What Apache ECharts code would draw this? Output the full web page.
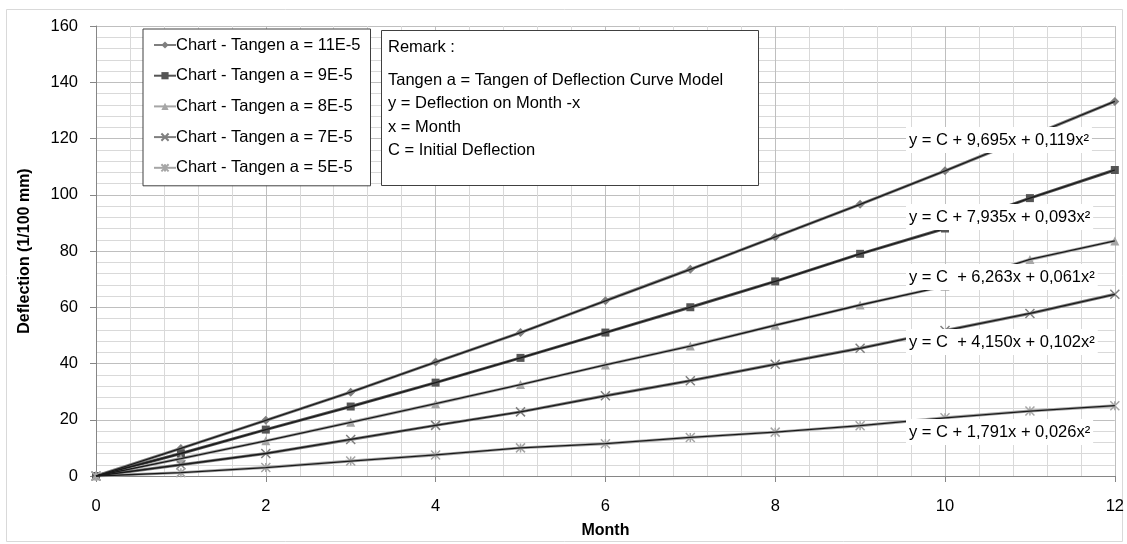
<!DOCTYPE html>
<html>
<head>
<meta charset="utf-8">
<script src="https://cdn.jsdelivr.net/npm/echarts@6/dist/echarts.min.js"></script>
<style>
html,body{margin:0;padding:0;background:#fff;}
#chart{width:1127px;height:544px;}
</style>
</head>
<body>
<div id="chart"></div>
<script>
// ---- data ----
const months = [0,1,2,3,4,5,6,7,8,9,10,11,12];
const seriesNames = [
  'Chart - Tangen a = 11E-5',
  'Chart - Tangen a = 9E-5',
  'Chart - Tangen a = 8E-5',
  'Chart - Tangen a = 7E-5',
  'Chart - Tangen a = 5E-5'
];
const tan11 = [0, 9.8, 19.8, 29.8, 40.5, 51, 62.3, 73.5, 85, 96.6, 108.5, 120.8, 133.2];
const tan9  = [0, 8, 16.5, 24.7, 33.2, 42, 51, 60, 69.2, 79, 88, 98.8, 108.8];
const tan8  = [0, 6.2, 12.5, 19.1, 25.7, 32.5, 39.5, 46.2, 53.6, 60.8, 67.5, 77, 83.6];
const tan7  = [0, 4, 8, 13, 18, 22.8, 28.5, 33.9, 39.7, 45.4, 51.7, 57.8, 64.6];
const tan5  = [0, 1.2, 3, 5.3, 7.5, 10, 11.5, 13.7, 15.6, 17.9, 20.7, 23.1, 25];
const equations = [
  'y = C + 9,695x + 0,119x²',
  'y = C + 7,935x + 0,093x²',
  'y = C  + 6,263x + 0,061x²',
  'y = C  + 4,150x + 0,102x²',
  'y = C + 1,791x + 0,026x²'
];
const remarkLines = [
  'Remark :',
  'Tangen a = Tangen of Deflection Curve Model',
  'y = Deflection on Month -x',
  'x = Month',
  'C = Initial Deflection'
];
const xTickLabels = ['0','2','4','6','8','10','12'];

// ---- styling ----
const FONT = '"Liberation Sans", Arial, sans-serif';
const allValues = [tan11, tan9, tan8, tan7, tan5];
const lineColors = ['#7f7f7f', '#555555', '#a6a6a6', '#7f7f7f', '#a6a6a6'];
const xPath = 'path://M0,0L10,10M10,0L0,10';
const starPath = 'path://M0,0L10,10M10,0L0,10M5,0L5,10';
const symbols = ['diamond', 'rect', 'triangle', xPath, starPath];
const symbolSizes = [9, 8, 9, 9, 9];

function pairs(vals){ return months.map((m,i)=>[m, vals[i]]); }

const series = [];
allValues.forEach((vals, i) => {
  const stroked = i >= 3;
  series.push({
    name: seriesNames[i],
    type: 'line',
    data: pairs(vals),
    symbol: symbols[i],
    symbolSize: symbolSizes[i],
    showSymbol: true,
    lineStyle: { color: lineColors[i], width: 3 },
    itemStyle: stroked
      ? { color: 'rgba(0,0,0,0)', borderColor: lineColors[i], borderWidth: 1.5 }
      : { color: lineColors[i], borderWidth: 0 },
    emphasis: { disabled: true },
    animation: false,
    z: 2
  });
});
allValues.forEach((vals, i) => {
  series.push({
    name: 'trend' + i,
    type: 'line',
    data: pairs(vals),
    symbol: 'none',
    lineStyle: { color: '#1a1a1a', width: 1.3 },
    emphasis: { disabled: true },
    animation: false,
    silent: true,
    z: 3
  });
});

// graphics
const graphics = [];
graphics.push({
  type: 'rect', z: 0, silent: true,
  shape: { x: 6.5, y: 9.5, width: 1116, height: 532 },
  style: { fill: 'rgba(0,0,0,0)', stroke: '#d9d9d9', lineWidth: 1 }
});
// remark box
graphics.push({
  type: 'rect', z: 100, silent: true,
  shape: { x: 381.5, y: 30.5, width: 377, height: 155 },
  style: { fill: '#fff', stroke: '#404040', lineWidth: 1 }
});
const remarkY = [47, 80, 103, 127, 150];
remarkLines.forEach((t, i) => {
  graphics.push({
    type: 'text', z: 101, silent: true,
    x: 388, y: remarkY[i],
    style: { text: t, font: '16.5px ' + FONT, fill: '#000', textVerticalAlign: 'middle', verticalAlign: 'middle' }
  });
});
// equation labels
const eqY = [140, 217, 277, 342, 432];
equations.forEach((t, i) => {
  graphics.push({
    type: 'text', z: 101, silent: true,
    x: 906, y: eqY[i],
    style: {
      text: t, font: '16.5px ' + FONT, fill: '#000',
      verticalAlign: 'middle', textVerticalAlign: 'middle',
      backgroundColor: '#fff', padding: [5, 3, 4, 3]
    }
  });
});

const chart = echarts.init(document.getElementById('chart'), null, { renderer: 'canvas' });
chart.setOption({
  animation: false,
  backgroundColor: '#fff',
  textStyle: { fontFamily: FONT },
  grid: { left: 96, right: 11, top: 26, bottom: 67, containLabel: false },
  legend: {
    data: seriesNames,
    orient: 'vertical',
    left: 143, top: 29,
    width: 232,
    padding: [7, 10, 9, 10],
    itemGap: 12.7,
    itemWidth: 22,
    itemHeight: 9,
    backgroundColor: '#fff',
    borderColor: '#404040',
    borderWidth: 1,
    borderRadius: 0,
    selectedMode: false,
    textStyle: { fontSize: 16.5, color: '#000', fontFamily: FONT, lineHeight: 18, padding: [0,0,0,-5] }
  },
  xAxis: {
    type: 'value', min: 0, max: 12, interval: 2,
    name: 'Month', nameLocation: 'middle', nameGap: 47,
    nameTextStyle: { fontSize: 16, fontWeight: 'bold', color: '#000', fontFamily: FONT },
    axisLine: { show: true, onZero: false, lineStyle: { color: '#868686', width: 1 } },
    axisTick: { show: true, inside: false, length: 6, lineStyle: { color: '#868686' } },
    minorTick: { show: false, splitNumber: 5 },
    axisLabel: { fontSize: 16.5, color: '#000', margin: 22, fontFamily: FONT,
      formatter: (v) => xTickLabels[Math.round(v / 2)] },
    splitLine: { show: true, lineStyle: { color: '#bfbfbf', width: 1 } },
    minorSplitLine: { show: true, lineStyle: { color: '#d9d9d9', width: 1 } }
  },
  yAxis: {
    type: 'value', min: 0, max: 160, interval: 20,
    name: 'Deflection (1/100 mm)', nameLocation: 'middle', nameGap: 63, nameRotate: 90,
    nameTextStyle: { fontSize: 16, fontWeight: 'bold', color: '#000', fontFamily: FONT },
    axisLine: { show: true, lineStyle: { color: '#868686', width: 1 } },
    axisTick: { show: true, inside: false, length: 6, lineStyle: { color: '#868686' } },
    minorTick: { show: false, splitNumber: 5 },
    axisLabel: { fontSize: 16.5, color: '#000', margin: 18, fontFamily: FONT },
    splitLine: { show: true, lineStyle: { color: '#bfbfbf', width: 1 } },
    minorSplitLine: { show: true, lineStyle: { color: '#d9d9d9', width: 1 } }
  },
  series: series,
  graphic: graphics
});
</script>
</body>
</html>
